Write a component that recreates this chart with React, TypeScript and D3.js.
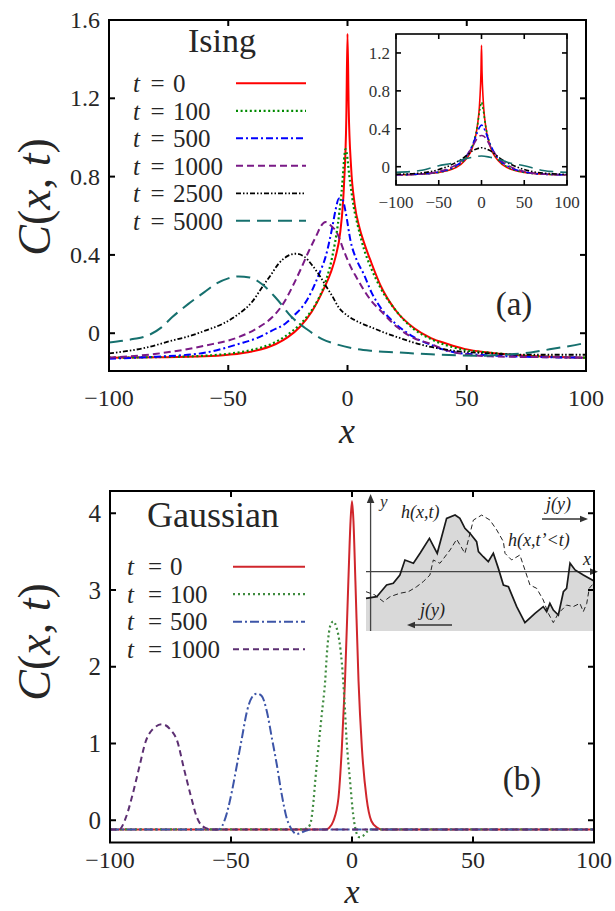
import React from 'react';
import * as d3 from 'd3';

type P = [number, number];

// ---------- Panel (a): Ising ----------
const isingXTicks = [-100, -50, 0, 50, 100];
const isingYTicks = [0, 0.4, 0.8, 1.2, 1.6];
const isingYLabels = ['0', '0.4', '0.8', '1.2', '1.6'];
const isingLegend = ['0', '100', '500', '1000', '2500', '5000'];

const isingT0: P[] = [[-100,-0.125],[-80,-0.123],[-60,-0.118],[-50,-0.11],[-40,-0.093],[-30,-0.055],[-25,-0.02],[-20,0.032],[-15,0.11],[-10,0.225],[-7,0.31],[-5,0.39],[-3,0.52],[-1.5,0.75],[-0.5,1.1],[0,1.53],[0.5,1.15],[1.5,0.85],[3,0.66],[5,0.54],[7,0.46],[10,0.36],[14,0.24],[20,0.12],[28,0.025],[35,-0.025],[42,-0.055],[49,-0.08],[60,-0.1],[75,-0.115],[100,-0.125]];
const isingT100: P[] = [[-100,-0.125],[-80,-0.122],[-60,-0.115],[-50,-0.105],[-40,-0.085],[-32,-0.055],[-26,-0.015],[-20.4,0.04],[-16,0.1],[-12,0.18],[-9,0.27],[-6.4,0.39],[-4,0.56],[-2.5,0.72],[-0.8,0.94],[1,0.78],[2.6,0.645],[4.5,0.54],[6.9,0.43],[10,0.33],[13.9,0.23],[20,0.12],[27.9,0.02],[35,-0.03],[48.9,-0.085],[60,-0.1],[75,-0.115],[100,-0.125]];
const isingT500: P[] = [[-100,-0.13],[-80,-0.12],[-60,-0.1],[-45.7,-0.055],[-38,-0.025],[-31.7,0.013],[-26,0.05],[-21.8,0.098],[-18,0.15],[-14.8,0.22],[-12,0.3],[-9.2,0.39],[-6.4,0.54],[-5,0.63],[-3.6,0.688],[-2,0.68],[-0.8,0.62],[1.3,0.47],[4,0.37],[6.9,0.3],[10,0.21],[13.9,0.13],[20,0.05],[27.9,-0.02],[35,-0.06],[41.9,-0.09],[55,-0.11],[75,-0.12],[100,-0.125]];
const isingT1000: P[] = [[-100,-0.125],[-80,-0.105],[-60,-0.064],[-45.7,-0.02],[-38,0.025],[-31.7,0.08],[-27,0.15],[-23.2,0.235],[-19.5,0.33],[-16.2,0.42],[-13,0.5],[-11,0.55],[-9.2,0.568],[-7,0.55],[-4.3,0.51],[-1.5,0.42],[1.3,0.34],[4,0.28],[6.9,0.22],[10,0.165],[13.9,0.115],[20.9,0.03],[27,-0.02],[34.9,-0.055],[41,-0.085],[48.9,-0.107],[60,-0.118],[80,-0.122],[100,-0.125]];
const isingT2500: P[] = [[-100,-0.103],[-85,-0.075],[-73.7,-0.038],[-65,-0.01],[-59.7,0.013],[-52,0.05],[-45.7,0.098],[-40,0.16],[-35.8,0.235],[-32,0.3],[-28.9,0.355],[-25,0.395],[-21.8,0.406],[-18,0.39],[-15,0.35],[-12,0.3],[-9,0.24],[-6.4,0.19],[-3.6,0.13],[0,0.09],[5,0.055],[10,0.03],[15,0.005],[20.9,-0.02],[27,-0.045],[34.9,-0.07],[45,-0.09],[62.9,-0.105],[80,-0.11],[100,-0.11]];
const isingT5000: P[] = [[-100,-0.047],[-90,-0.03],[-84,-0.013],[-78,0.03],[-73.7,0.08],[-66.7,0.15],[-60,0.21],[-55.5,0.25],[-50,0.28],[-45.7,0.29],[-41,0.285],[-35.8,0.25],[-30,0.18],[-23.2,0.08],[-17,0.02],[-10.6,-0.03],[-5,-0.055],[3.4,-0.08],[10,-0.09],[20.9,-0.098],[35,-0.108],[55.9,-0.115],[65,-0.11],[76.9,-0.098],[88,-0.075],[98.6,-0.052],[100,-0.047]];

// inset of panel (a)
const insetXTicks = [-100, -50, 0, 50, 100];
const insetYTicks = [0, 0.4, 0.8, 1.2];
const insetYLabels = ['0', '0.4', '0.8', '1.2'];
const insetT0: P[] = [[-100,-0.085],[-75,-0.08],[-50,-0.06],[-30,-0.01],[-20,0.06],[-10,0.22],[-5,0.42],[-2,0.7],[-0.6,1.0],[0,1.28],[0.6,1.0],[2,0.7],[5,0.42],[10,0.22],[20,0.06],[30,-0.01],[50,-0.06],[75,-0.08],[100,-0.085]];
const insetT100: P[] = [[-100,-0.085],[-75,-0.08],[-50,-0.06],[-30,0.0],[-20,0.07],[-10,0.24],[-5,0.42],[-2,0.6],[0,0.68],[2,0.6],[5,0.42],[10,0.24],[20,0.07],[30,0.0],[50,-0.06],[75,-0.08],[100,-0.085]];
const insetT500: P[] = [[-100,-0.085],[-75,-0.08],[-50,-0.055],[-30,0.01],[-20,0.08],[-10,0.24],[-5,0.36],[-2,0.42],[0,0.44],[2,0.42],[5,0.36],[10,0.24],[20,0.08],[30,0.01],[50,-0.055],[75,-0.08],[100,-0.085]];
const insetT1000: P[] = [[-100,-0.085],[-75,-0.08],[-50,-0.05],[-30,0.02],[-20,0.09],[-10,0.22],[-5,0.3],[-3,0.32],[0,0.33],[3,0.32],[5,0.3],[10,0.22],[20,0.09],[30,0.02],[50,-0.05],[75,-0.08],[100,-0.085]];
const insetT2500: P[] = [[-100,-0.08],[-75,-0.07],[-50,-0.03],[-33,0.03],[-20,0.1],[-10,0.17],[-5,0.19],[0,0.2],[5,0.19],[10,0.17],[20,0.1],[33,0.03],[50,-0.03],[75,-0.07],[100,-0.08]];
const insetT5000: P[] = [[-100,-0.06],[-72,-0.04],[-50,0.01],[-33,0.04],[-20,0.08],[-10,0.1],[0,0.113],[10,0.1],[20,0.08],[33,0.04],[50,0.01],[72,-0.04],[100,-0.06]];

// ---------- Panel (b): Gaussian ----------
const gaussXTicks = [-100, -50, 0, 50, 100];
const gaussYTicks = [0, 1, 2, 3, 4];
const gaussLegend = ['0', '100', '500', '1000'];
const gaussT0: P[] = [[-100,-0.12],[-11,-0.12],[-9.5,-0.1],[-7.7,-0.01],[-5.6,0.29],[-4.2,0.94],[-2.9,1.81],[-1.5,3.12],[-0.6,3.9],[0,4.16],[0.6,3.9],[1.4,3.12],[2.7,1.81],[4.1,0.94],[6,0.29],[8,-0.01],[10.5,-0.1],[12,-0.12],[100,-0.12]];
const gaussT100: P[] = [[-100,-0.12],[-20,-0.12],[-18.6,-0.1],[-17.3,-0.056],[-15.9,0.25],[-15.2,0.51],[-13.9,0.94],[-12.5,1.38],[-11.1,1.81],[-10.4,2.16],[-9.5,2.45],[-8.5,2.57],[-7.7,2.59],[-6.5,2.52],[-5.3,2.35],[-4.2,2.05],[-3.2,1.6],[-2.2,1.03],[-0.8,0.51],[0.5,0.07],[1.9,-0.17],[3,-0.22],[4.7,-0.2],[6.5,-0.14],[8,-0.12],[100,-0.12]];
const gaussT500: P[] = [[-100,-0.12],[-55.1,-0.12],[-52.3,0.03],[-49.6,0.38],[-47.5,0.73],[-45.5,1.07],[-43.4,1.42],[-41.4,1.6],[-39.3,1.65],[-37.3,1.62],[-35.2,1.42],[-33.1,1.07],[-31.1,0.73],[-29,0.33],[-27,0.03],[-24.9,-0.12],[-22.9,-0.18],[-19.4,-0.14],[-16.7,-0.12],[100,-0.12]];
const gaussT1000: P[] = [[-100,-0.12],[-96.2,-0.12],[-93.5,0.03],[-90.7,0.33],[-88,0.68],[-85.2,1.03],[-82.5,1.18],[-78.4,1.25],[-75,1.18],[-72.2,1.03],[-69.5,0.68],[-66.7,0.33],[-64,0.03],[-60.6,-0.1],[-57.8,-0.12],[100,-0.12]];

// sketch inside panel (b): heights of the two interfaces (arbitrary units)
const sketchNow: P[] = [[0,24.9],[4.7,26.2],[9,35.1],[11.9,36.4],[14.8,42.7],[17,54.2],[20.7,51.7],[23.6,59.3],[27.7,70.7],[31.1,59.3],[35.2,86],[38.9,88.5],[41,86],[43.2,78.4],[45.4,74.6],[48.3,68.2],[49.1,60.6],[51.2,56.7],[53.4,52.9],[55.6,59.3],[57.8,47.8],[60,35.1],[62.2,33.8],[65.8,18.6],[69.4,6.4],[73.8,13.5],[77.4,18.6],[78.9,14.8],[80.3,21.1],[81.8,16],[84,12.2],[86.2,30],[87.6,32.6],[89.1,51.7],[91.3,46.6],[94.9,42.7],[100,37.7]];
const sketchEarlier: P[] = [[0,30],[3.9,27.5],[7.6,22.4],[10.5,26.2],[14.8,28.8],[18.5,30],[22.1,33.8],[25,37.7],[27.9,42.7],[29.4,54.2],[32.3,51.7],[36.7,61.8],[39.6,70],[43.2,59.3],[46.9,84.7],[50.5,88.5],[54.1,84.7],[57.1,77.1],[60,68.2],[60.7,59.3],[63.6,54.2],[67.2,58],[69.4,46.6],[71.6,35.1],[74.5,32.6],[77.4,23.7],[79.6,13.5],[81.8,6.4],[84,13.5],[87.6,19.8],[90.5,18.6],[93.4,21.1],[94.9,14.8],[96.4,21.1],[97.5,32.6],[100,37.7]];
const sketchAxisLevel = 45.3;

const serif = "'Liberation Serif','DejaVu Serif',serif";
const txt = '#262626';

type Series = { data: P[]; color: string; dash: string; width: number };

const isingSeries: Series[] = [
  { data: isingT0, color: '#ff0000', dash: '', width: 2 },
  { data: isingT100, color: '#008a00', dash: '2,2.6', width: 2.2 },
  { data: isingT500, color: '#0000ff', dash: '7,3,2,3', width: 2 },
  { data: isingT1000, color: '#7a1a86', dash: '7,4', width: 2 },
  { data: isingT2500, color: '#000000', dash: '5,2,1.5,2,1.5,2', width: 1.8 },
  { data: isingT5000, color: '#16706e', dash: '14,7', width: 2 },
];
const insetData = [insetT0, insetT100, insetT500, insetT1000, insetT2500, insetT5000];

const gaussSeries: Series[] = [
  { data: gaussT0, color: '#d0262c', dash: '', width: 2 },
  { data: gaussT100, color: '#3e8a3e', dash: '2,3', width: 2.2 },
  { data: gaussT500, color: '#3d55a8', dash: '9,3,2,3', width: 2 },
  { data: gaussT1000, color: '#5c2f72', dash: '6,4', width: 2 },
];

export default function App() {
  const ax = d3.scaleLinear().domain([-100, 100]).range([109, 586]);
  const ay = d3.scaleLinear().domain([-0.193, 1.6]).range([371, 20]);
  const ix = d3.scaleLinear().domain([-100, 100]).range([396, 567]);
  const iy = d3.scaleLinear().domain([-0.193, 1.4]).range([185, 34]);
  const bx = d3.scaleLinear().domain([-100, 100]).range([110, 594]);
  const by = d3.scaleLinear().domain([-0.29, 4.29]).range([842.5, 491]);
  const sx = d3.scaleLinear().domain([0, 100]).range([366, 595]);
  const sy = d3.scaleLinear().domain([0, 100]).range([631, 500]);

  const mkLine = (xs: any, ys: any) => d3.line<P>().x(d => xs(d[0])).y(d => ys(d[1])).curve(d3.curveMonotoneX);
  const aLine = mkLine(ax, ay);
  const iLine = mkLine(ix, iy);
  const bLine = mkLine(bx, by);
  const sLine = d3.line<P>().x(d => sx(d[0])).y(d => sy(d[1]));
  const sArea = d3.area<P>().x(d => sx(d[0])).y0(sy(0)).y1(d => sy(d[1]));

  const ticks = (xs: any, ys: any, xt: number[], yt: number[], len: number, sw: number) => {
    const [xa, xb] = xs.range();
    const [ya, yb] = ys.range();
    const els: any[] = [];
    xt.forEach((t, i) => {
      const px = xs(t);
      els.push(<line key={'xb' + i} x1={px} x2={px} y1={ya} y2={ya - len} stroke="#000" strokeWidth={sw} />);
      els.push(<line key={'xt' + i} x1={px} x2={px} y1={yb} y2={yb + len} stroke="#000" strokeWidth={sw} />);
    });
    yt.forEach((t, i) => {
      const py = ys(t);
      els.push(<line key={'yl' + i} x1={xa} x2={xa + len} y1={py} y2={py} stroke="#000" strokeWidth={sw} />);
      els.push(<line key={'yr' + i} x1={xb} x2={xb - len} y1={py} y2={py} stroke="#000" strokeWidth={sw} />);
    });
    els.push(<rect key="frame" x={xa} y={yb} width={xb - xa} height={ya - yb} fill="none" stroke="#000" strokeWidth={sw} />);
    return els;
  };

  const fmtX = (v: number) => (v < 0 ? '\u2212' + Math.abs(v) : String(v));

  const arrowHead = (tipX: number, tipY: number, dir: 'up' | 'left' | 'right', size = 7) => {
    const s = size, w = size * 0.42;
    let pts: number[][] = [];
    if (dir === 'up') pts = [[tipX, tipY], [tipX - w, tipY + s], [tipX + w, tipY + s]];
    if (dir === 'right') pts = [[tipX, tipY], [tipX - s, tipY - w], [tipX - s, tipY + w]];
    if (dir === 'left') pts = [[tipX, tipY], [tipX + s, tipY - w], [tipX + s, tipY + w]];
    return pts.map(p => p.join(',')).join(' ');
  };

  const axisY = sy(sketchAxisLevel);
  const yAxisX = sx(2);

  return (
    <svg width={615} height={911} style={{ display: 'block', position: 'absolute', left: 0, top: 0, background: '#fff' }} fontFamily={serif}>
      <defs>
        <clipPath id="clipA"><rect x={109} y={20} width={477} height={351} /></clipPath>
        <clipPath id="clipI"><rect x={396} y={34} width={171} height={151} /></clipPath>
        <clipPath id="clipB"><rect x={110} y={491} width={484} height={351.5} /></clipPath>
        <clipPath id="clipS"><rect x={360} y={490} width={234} height={145} /></clipPath>
      </defs>
      <rect x={0} y={0} width={615} height={911} fill="#fff" />

      {/* ================= Panel (a) ================= */}
      <g clipPath="url(#clipA)">
        {isingSeries.map((s, i) => (
          <path key={i} d={aLine(s.data) || ''} fill="none" stroke={s.color} strokeWidth={s.width} strokeDasharray={s.dash || undefined} />
        ))}
      </g>
      {ticks(ax, ay, isingXTicks, isingYTicks, 6, 2)}
      {isingYTicks.map((t, i) => (
        <text key={'ayl' + i} x={100} y={ay(t) + 8} textAnchor="end" fontSize={24} fill={txt}>{isingYLabels[i]}</text>
      ))}
      {isingXTicks.map((t, i) => (
        <text key={'axl' + i} x={ax(t)} y={406} textAnchor="middle" fontSize={24} fill={txt}>{fmtX(t)}</text>
      ))}
      <text x={188} y={52} fontSize={34} fill={txt}>Ising</text>
      {isingSeries.map((s, i) => {
        const yy = 83.3 + i * 27.5;
        return (
          <g key={'al' + i}>
            <text x={133} y={yy + 9} fontSize={25} fontStyle="italic" fill={txt}>t</text>
            <text x={157.5} y={yy + 9} fontSize={25} textAnchor="middle" fill={txt}>=</text>
            <text x={173} y={yy + 9} fontSize={25} fill={txt}>{isingLegend[i]}</text>
            <line x1={236} x2={306} y1={yy} y2={yy} stroke={s.color} strokeWidth={s.width} strokeDasharray={s.dash || undefined} />
          </g>
        );
      })}
      <text x={514} y={315} fontSize={33} textAnchor="middle" fill={txt}>(a)</text>
      <text transform={`translate(50,197) rotate(-90)`} fontSize={46} textAnchor="middle" fill={txt}>
        <tspan fontStyle="italic">C</tspan>(<tspan fontStyle="italic">x</tspan>, <tspan fontStyle="italic">t</tspan>)
      </text>
      <text x={347} y={443} fontSize={36} fontStyle="italic" textAnchor="middle" fill={txt}>x</text>

      {/* inset */}
      <rect x={396} y={34} width={171} height={151} fill="#fff" />
      <g clipPath="url(#clipI)">
        {isingSeries.map((s, i) => (
          <path key={'in' + i} d={iLine(insetData[i]) || ''} fill="none" stroke={s.color} strokeWidth={1.6} strokeDasharray={s.dash || undefined} />
        ))}
      </g>
      {ticks(ix, iy, insetXTicks, insetYTicks, 5, 1.6)}
      {insetYTicks.map((t, i) => (
        <text key={'iyl' + i} x={390} y={iy(t) + 6} textAnchor="end" fontSize={17} fill="#333">{insetYLabels[i]}</text>
      ))}
      {insetXTicks.map((t, i) => (
        <text key={'ixl' + i} x={ix(t)} y={208} textAnchor="middle" fontSize={17} fill="#333">{fmtX(t)}</text>
      ))}

      {/* ================= Panel (b) ================= */}
      <g clipPath="url(#clipS)">
        <path d={sArea(sketchNow) || ''} fill="#d9d9d9" stroke="none" />
        <line x1={sx(0)} x2={598} y1={axisY} y2={axisY} stroke="#444" strokeWidth={1.3} />
        <line x1={yAxisX} x2={yAxisX} y1={sy(0)} y2={500} stroke="#444" strokeWidth={1.3} />
        <path d={sLine(sketchEarlier) || ''} fill="none" stroke="#222" strokeWidth={1} strokeDasharray="5,3" />
        <path d={sLine(sketchNow) || ''} fill="none" stroke="#1a1a1a" strokeWidth={1.7} />
      </g>
      <polygon points={arrowHead(yAxisX, 494, 'up', 9)} fill="#333" />
      <polygon points={arrowHead(598, axisY, 'right', 8)} fill="#333" />
      <line x1={542} x2={584} y1={519} y2={519} stroke="#333" strokeWidth={1.3} />
      <polygon points={arrowHead(588, 519, 'right', 8)} fill="#333" />
      <line x1={452} x2={411} y1={625} y2={625} stroke="#333" strokeWidth={1.3} />
      <polygon points={arrowHead(407, 625, 'left', 8)} fill="#333" />
      <text x={380} y={507} fontSize={17} fontStyle="italic" fill="#333">y</text>
      <text x={401} y={518} fontSize={18} fontStyle="italic" fill="#222">h(x,t)</text>
      <text x={508} y={546} fontSize={18} fontStyle="italic" fill="#222">h(x,t’&lt;t)</text>
      <text x={583} y={565} fontSize={18} fontStyle="italic" fill="#222">x</text>
      <text x={546} y={510} fontSize={18} fontStyle="italic" fill="#222">j(y)</text>
      <text x={420} y={616} fontSize={18} fontStyle="italic" fill="#222">j(y)</text>

      <g clipPath="url(#clipB)">
        {gaussSeries.map((s, i) => (
          <path key={'g' + i} d={bLine(s.data) || ''} fill="none" stroke={s.color} strokeWidth={s.width} strokeDasharray={s.dash || undefined} />
        ))}
      </g>
      {ticks(bx, by, gaussXTicks, gaussYTicks, 6, 2)}
      {gaussYTicks.map((t, i) => (
        <text key={'byl' + i} x={101} y={by(t) + 8.5} textAnchor="end" fontSize={25} fill={txt}>{String(t)}</text>
      ))}
      {gaussXTicks.map((t, i) => (
        <text key={'bxl' + i} x={bx(t)} y={867.5} textAnchor="middle" fontSize={24} fill={txt}>{fmtX(t)}</text>
      ))}
      <text x={147} y={527} fontSize={36} fill={txt}>Gaussian</text>
      {gaussSeries.map((s, i) => {
        const yy = 566.7 + i * 27.5;
        return (
          <g key={'bl' + i}>
            <text x={127} y={yy + 8.5} fontSize={25} fontStyle="italic" fill={txt}>t</text>
            <text x={155} y={yy + 8.5} fontSize={25} textAnchor="middle" fill={txt}>=</text>
            <text x={170} y={yy + 8.5} fontSize={25} fill={txt}>{gaussLegend[i]}</text>
            <line x1={233} x2={305} y1={yy} y2={yy} stroke={s.color} strokeWidth={s.width} strokeDasharray={s.dash || undefined} />
          </g>
        );
      })}
      <text x={522} y={790} fontSize={33} textAnchor="middle" fill={txt}>(b)</text>
      <text transform={`translate(50,642) rotate(-90)`} fontSize={46} textAnchor="middle" fill={txt}>
        <tspan fontStyle="italic">C</tspan>(<tspan fontStyle="italic">x</tspan>, <tspan fontStyle="italic">t</tspan>)
      </text>
      <text x={352} y={903} fontSize={34} fontStyle="italic" textAnchor="middle" fill={txt}>x</text>
    </svg>
  );
}
